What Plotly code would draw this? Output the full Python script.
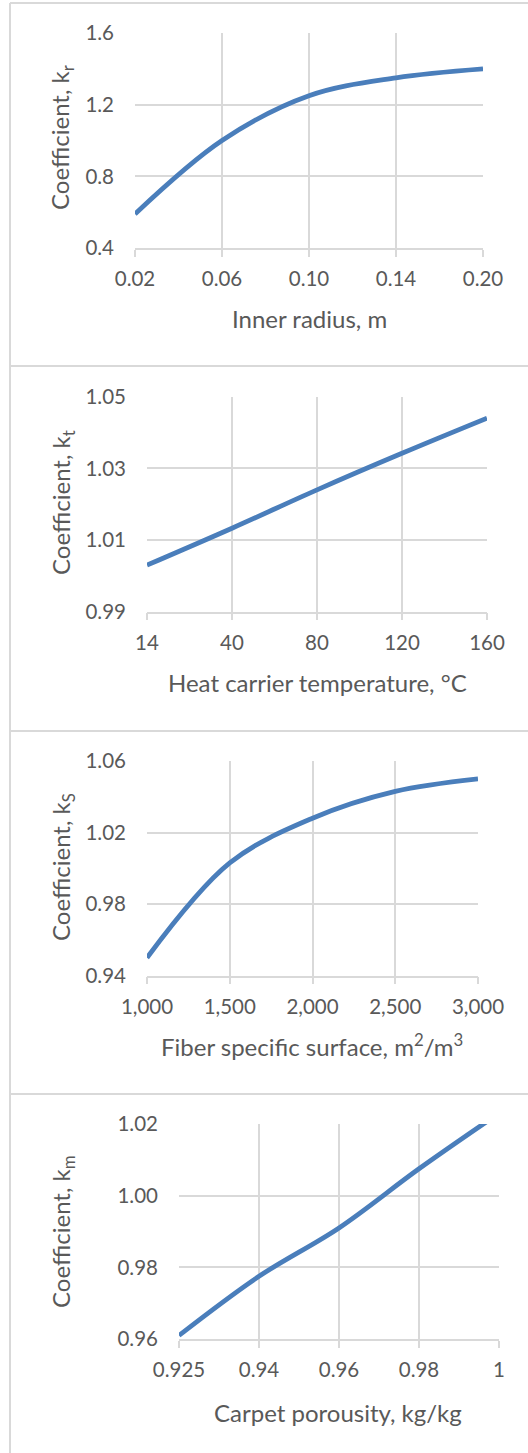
import plotly.graph_objects as go

W, H = 528, 1453

# ---- data ----
radius_labels = ["0.02", "0.06", "0.10", "0.14", "0.20"]
k_r = [0.59, 1.00, 1.25, 1.35, 1.40]

temp_labels = ["14", "40", "80", "120", "160"]
k_t = [1.003, 1.0133, 1.0240, 1.0342, 1.044]

surface_labels = ["1,000", "1,500", "2,000", "2,500", "3,000"]
k_s = [0.950, 1.003, 1.028, 1.043, 1.050]

porosity_labels = ["0.925", "0.94", "0.96", "0.98", "1"]
k_m = [0.961, 0.9775, 0.991, 1.0075, 1.023]

panels = [
    dict(labels=radius_labels, y=k_r, yr=[0.4, 1.6], dt=0.4, fmt=".1f",
         xpx=(135, 483), ypx=(33, 248),
         ytitle="Coefficient, k<sub>r</sub>", xtitle="Inner radius, m",
         ytc=(62, 138), xtc=(309, 318)),
    dict(labels=temp_labels, y=k_t, yr=[0.99, 1.05], dt=0.02, fmt=".2f",
         xpx=(147, 487), ypx=(396.7, 611.7),
         ytitle="Coefficient, k<sub>t</sub>", xtitle="Heat carrier temperature, °C",
         ytc=(62, 503), xtc=(317, 682)),
    dict(labels=surface_labels, y=k_s, yr=[0.94, 1.06], dt=0.04, fmt=".2f",
         xpx=(147, 478), ypx=(761, 975.7),
         ytitle="Coefficient, k<sub>S</sub>",
         xtitle="Fiber specific surface, m<sup>2</sup>/m<sup>3</sup>",
         ytc=(62, 867), xtc=(312, 1045)),
    dict(labels=porosity_labels, y=k_m, yr=[0.96, 1.02], dt=0.02, fmt=".2f",
         xpx=(179, 499), ypx=(1124, 1339),
         ytitle="Coefficient, k<sub>m</sub>", xtitle="Carpet porousity, kg/kg",
         ytc=(62, 1232), xtc=(338, 1412)),
]

TEXT = "#595959"
GRID = "#d9d9d9"
LINE = "#4a7ebb"
FONT = "Lato, 'Open Sans', sans-serif"
TICK_SIZE = 20.5
TITLE_SIZE = 24

fig = go.Figure()
layout = dict(width=W, height=H, autosize=False,
              margin=dict(l=0, r=0, t=0, b=0, pad=0, autoexpand=False),
              paper_bgcolor="white", plot_bgcolor="white",
              showlegend=False, font=dict(family=FONT, color=TEXT, size=TICK_SIZE),
              annotations=[], shapes=[])

# panel frame lines (kept inside the page)
layout["shapes"].append(dict(type="line", xref="paper", yref="paper",
                             x0=10 / W, x1=10 / W, y0=0, y1=1 - 3 / H,
                             line=dict(color=GRID, width=2), layer="below"))
for yb in (3, 366, 731, 1094):
    layout["shapes"].append(dict(type="line", xref="paper", yref="paper",
                                 x0=10 / W, x1=1, y0=1 - yb / H, y1=1 - yb / H,
                                 line=dict(color=GRID, width=2), layer="below"))

for i, p in enumerate(panels):
    n = i + 1
    xa = "xaxis" if n == 1 else f"xaxis{n}"
    ya = "yaxis" if n == 1 else f"yaxis{n}"
    xs = list(range(len(p["labels"])))
    fig.add_trace(go.Scatter(
        x=xs, y=p["y"], mode="lines",
        line=dict(color=LINE, width=4.8, shape="spline", smoothing=1.0),
        xaxis="x" if n == 1 else f"x{n}", yaxis="y" if n == 1 else f"y{n}",
        hoverinfo="skip"))
    lo, hi = p["yr"]
    nt = round((hi - lo) / p["dt"])
    tv = [lo + k * p["dt"] for k in range(nt + 1)]
    layout[xa] = dict(domain=[p["xpx"][0] / W, p["xpx"][1] / W],
                      anchor="y" if n == 1 else f"y{n}", automargin=False,
                      range=[0, len(xs) - 1], tickvals=xs, ticktext=p["labels"],
                      showgrid=True, gridcolor=GRID, gridwidth=1.5,
                      showline=True, linecolor=GRID, linewidth=1.5,
                      ticks="outside", ticklen=7, tickcolor=GRID, tickwidth=1.5,
                      ticklabelstandoff=5,
                      zeroline=False, fixedrange=True,
                      tickfont=dict(family=FONT, color=TEXT, size=TICK_SIZE))
    layout[ya] = dict(domain=[1 - p["ypx"][1] / H, 1 - p["ypx"][0] / H],
                      anchor="x" if n == 1 else f"x{n}", automargin=False,
                      range=[lo, hi], tickvals=tv,
                      ticktext=[format(v, p["fmt"]) for v in tv],
                      showgrid=True, gridcolor=GRID, gridwidth=1.5,
                      showline=False, ticks="", ticklabelstandoff=20,
                      zeroline=False, fixedrange=True,
                      tickfont=dict(family=FONT, color=TEXT, size=TICK_SIZE))
    layout["annotations"].append(dict(
        text=p["xtitle"], xref="paper", yref="paper",
        x=p["xtc"][0] / W, y=1 - p["xtc"][1] / H, xanchor="center", yanchor="middle",
        showarrow=False, font=dict(family=FONT, color=TEXT, size=TITLE_SIZE)))
    layout["annotations"].append(dict(
        text=p["ytitle"], xref="paper", yref="paper", textangle=-90,
        x=p["ytc"][0] / W, y=1 - p["ytc"][1] / H, xanchor="center", yanchor="middle",
        showarrow=False, font=dict(family=FONT, color=TEXT, size=TITLE_SIZE)))

fig.update_layout(**layout)
fig.write_html("out.html")
